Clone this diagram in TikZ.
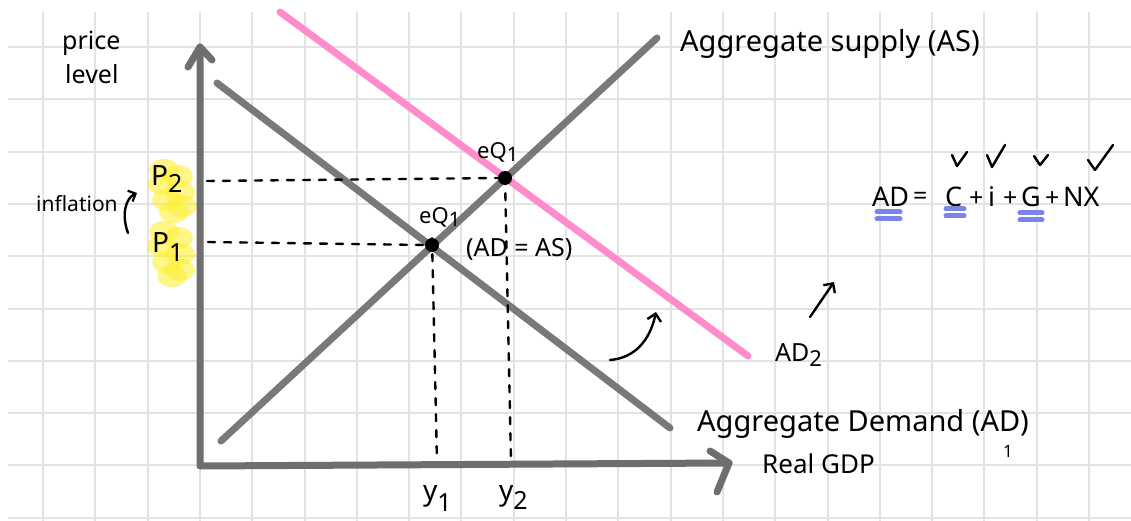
\documentclass[tikz,border=0pt]{standalone}
\usepackage{fontspec}
\setmainfont{Noto Sans}
\usetikzlibrary{arrows.meta}
\definecolor{gridc}{HTML}{E3E3E3}
\definecolor{axisc}{HTML}{6E6E6E}
\definecolor{pinkc}{HTML}{FF8CCB}
\definecolor{hlc}{HTML}{FFF03A}
\definecolor{bluec}{HTML}{7A85E6}
\newcommand\mysub[3]{\raisebox{-#1}{\fontsize{#2}{#2}\selectfont #3}}
\tikzset{
  gridline/.style={draw=gridc, line width=2pt},
  axisline/.style={draw=axisc, line width=7pt, line cap=round, line join=round},
  curveline/.style={draw=axisc, line width=7pt, line cap=round, opacity=0.92},
  adtwo/.style={draw=pinkc, line width=7pt, line cap=round},
  guide/.style={draw=black, line width=2.4pt, dash pattern=on 7pt off 9pt, line cap=round},
  big/.style={font=\fontsize{29}{31}\selectfont, inner sep=0pt, anchor=base west},
  hand/.style={font=\fontsize{25}{27}\selectfont, inner sep=0pt, anchor=base west},
  small/.style={font=\fontsize{22}{24}\selectfont, inner sep=0pt, anchor=base west},
  checkmark/.style={draw=black, line width=2.4pt, line cap=round, line join=round},
  eqdot/.style={circle, fill=black, minimum size=14pt, inner sep=0pt},
  under/.style={draw=bluec, line width=5pt, line cap=round},
  pen/.style={draw=black, line width=2.4pt, line cap=round, -{Straight Barb[length=7pt,width=14pt,line width=2.4pt]}},
  hl/.style={fill=hlc, opacity=0.6, draw=none},
}
\begin{document}
\begin{tikzpicture}[x=1pt,y=-1pt]
\useasboundingbox (0,0) rectangle (1131,521);
\fill[white] (0,0) rectangle (1131,521);
% grid
\foreach \i in {0,...,20} \draw[gridline] (43+52.3*\i,12) -- (43+52.3*\i,521);
\foreach \j in {0,...,9} \draw[gridline] (8,47+52.3*\j) -- (1131,47+52.3*\j);

% key points
\coordinate (O) at (200,466);
\coordinate (Ytop) at (200,47);
\coordinate (Yl) at (188,67);
\coordinate (Yr) at (212,60);
\coordinate (Xend) at (729,463);
\coordinate (Xu) at (710,451);
\coordinate (Xd) at (717,492);
\coordinate (ASa) at (221,441);
\coordinate (ASb) at (657,38);
\coordinate (ADa) at (217,83);
\coordinate (ADb) at (670,428);
\coordinate (ADc) at (280,12);
\coordinate (ADd) at (748,356);

% highlights
\foreach \dx/\dy in {0/0,14/6,-2/14,16/22,3/30,18/36,10/42} \fill[hl] (164+\dx,170+\dy) ellipse (15pt and 11pt);
\foreach \dx/\dy in {0/0,14/6,-2/14,16/22,3/30,16/38,8/44} \fill[hl] (164+\dx,232+\dy) ellipse (15pt and 11pt);

% curves
\draw[adtwo] (ADc) -- (ADd);
\draw[curveline] (ADa) -- (ADb);
\draw[curveline] (ASa) -- (ASb);

% axes
\draw[axisline] (Ytop) -- (O) -- (Xend);
\draw[axisline] (Yl) -- (Ytop) -- (Yr);
\draw[axisline] (Xu) -- (Xend) -- (Xd);

% equilibrium points
\node[eqdot] (E1) at (432,245) {};
\node[eqdot] (E2) at (505,178) {};

% guides
\coordinate (P2y) at (207,181);
\coordinate (P1y) at (208,242);
\coordinate (Y1x) at (437,462);
\coordinate (Y2x) at (511,462);
\draw[guide] (P2y) -- (E2.west);
\draw[guide] (P1y) -- (E1.west);
\draw[guide] ([yshift=14pt]E1.south) -- (Y1x);
\draw[guide] ([yshift=8pt]E2.south) -- (Y2x);

% labels
\node[hand] (price) at (62,50) {price};
\node[hand] (level) at (65,84) {level};
\node[small, font=\fontsize{21}{23}\selectfont] (infl) at (36,212) {inflation};
\coordinate (ia) at (128,233);
\coordinate (ib) at (137,193);
\draw[pen, -{Straight Barb[length=6pt,width=12pt,line width=2.2pt]}] (ia) .. controls (121,214) and (126,198) .. (ib);
\node[hand, font=\fontsize{28}{30}\selectfont] (P2) at (151,186) {P\mysub{6pt}{25}{2}};
\node[hand, font=\fontsize{28}{30}\selectfont] (P1) at (152,252) {P\mysub{9pt}{25}{1}};
\node[small] (eqa) at (477,159) {eQ\mysub{3pt}{20}{1}};
\node[small] (eqb) at (419,223) {eQ\mysub{3pt}{20}{1}};
\node[small, font=\fontsize{25}{27}\selectfont] (adas) at (466,256) {(AD = AS)};
\node[big] (ASlab) at (680,52) {Aggregate supply (AS)};
\node[big] (ADlab) at (697,431) {Aggregate Demand (AD)};
\node[font=\fontsize{17}{19}\selectfont, inner sep=0pt] (ADsub) at (1008,451) {1};
\node[small, font=\fontsize{26}{28}\selectfont] (GDP) at (762,473) {Real GDP};
\node[hand] (AD2lab) at (775,361) {AD\mysub{5pt}{22}{2}};
\node[hand, font=\fontsize{28}{30}\selectfont] (y1) at (423,500) {y\mysub{11pt}{25}{1}};
\node[hand, font=\fontsize{28}{30}\selectfont] (y2) at (499,500) {y\mysub{9pt}{25}{2}};

% shift arrows
\coordinate (sa) at (610,360);
\coordinate (sb) at (656,312);
\draw[pen] (sa) .. controls (635,358) and (650,340) .. (sb);
\coordinate (ua) at (810,317);
\coordinate (ub) at (834,282);
\draw[pen] (ua) -- (ub);

% equation
\node[hand, font=\fontsize{27}{29}\selectfont] (eAD) at (872,207) {AD};
\node[hand] (eeq) at (913,205) {=};
\node[hand, font=\fontsize{27}{29}\selectfont] (eC) at (945,207) {C};
\node[hand] (ep1) at (969,207) {+};
\node[hand, font=\fontsize{27}{29}\selectfont] (ei) at (988,207) {i};
\node[hand] (ep2) at (1003,207) {+};
\node[hand, font=\fontsize{27}{29}\selectfont] (eG) at (1021,207) {G};
\node[hand] (ep3) at (1045,207) {+};
\node[hand, font=\fontsize{27}{29}\selectfont] (eNX) at (1063,207) {NX};
\draw[checkmark] (952,155) -- (957,166) -- (967,152);
\draw[checkmark] (987,155) -- (992,167) -- (1005,145);
\draw[checkmark] (1034,156) -- (1040,165) -- (1048,155);
\draw[checkmark] (1088,160) -- (1095,170) -- (1113,145);
\draw[under] (877,212) -- (900,212);
\draw[under] (877,219) -- (900,219);
\draw[under] (946,209) -- (964,209);
\draw[under] (946,216) -- (964,216);
\draw[under] (1020,213) -- (1042,213);
\draw[under] (1020,220) -- (1042,220);
\end{tikzpicture}
\end{document}
